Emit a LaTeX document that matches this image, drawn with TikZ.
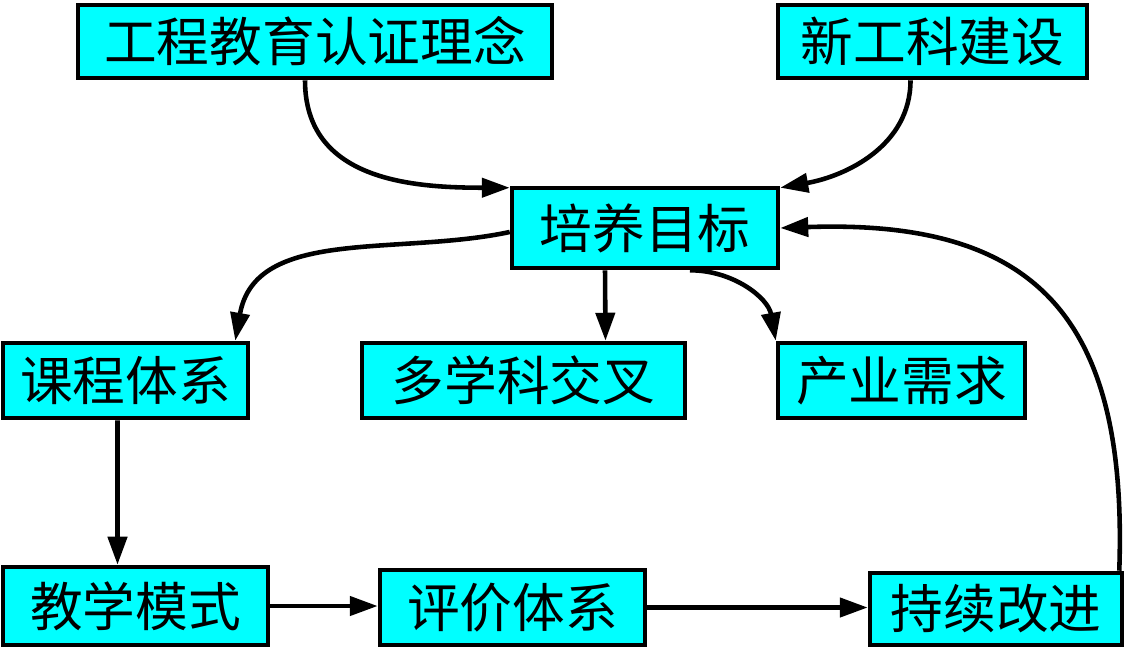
\documentclass[tikz,border=0pt]{standalone}
\usepackage{fontspec}
\newfontfamily\cjk{Noto Sans CJK SC}
\usepackage{tikz}
\usetikzlibrary{arrows.meta}
\definecolor{boxcyan}{RGB}{0,255,255}

\begin{document}
\begin{tikzpicture}[
			x=0.02cm, y=-0.02cm,
			line width=2.6pt,
			>={Triangle[length=0.56cm, width=0.38cm]},
			main/.style = {draw, fill=boxcyan, rectangle, inner sep=0pt, line width=2.6pt,
				font=\cjk\fontsize{30}{30}\selectfont}
		]
		\useasboundingbox (0,0) rectangle (1132,650);
		\node[main, minimum width=9.48cm, minimum height=1.46cm] (gc) at (315,41.5) {工程教育认证理念};
		\node[main, minimum width=6.18cm, minimum height=1.46cm] (xgk) at (932.5,41.5) {新工科建设};
		\node[main, minimum width=5.32cm, minimum height=1.6cm] (py) at (645,228) {培养目标};
		\node[main, minimum width=4.9cm, minimum height=1.5cm] (kc) at (125.5,380.5) {课程体系};
		\node[main, minimum width=6.46cm, minimum height=1.5cm] (dxk) at (523.5,380.5) {多学科交叉};
		\node[main, minimum width=4.94cm, minimum height=1.5cm] (cy) at (901.5,380.5) {产业需求};
		\node[main, minimum width=5.3cm, minimum height=1.56cm] (jx) at (135.5,606) {教学模式};
		\node[main, minimum width=5.3cm, minimum height=1.5cm] (pj) at (512.5,607.5) {评价体系};
		\node[main, minimum width=5.04cm, minimum height=1.44cm] (cx) at (996,609) {持续改进};
		% Draw the inputs to the goal.
		\draw[->] ([xshift=-0.2cm]gc.south) to [out=-90, in=180, looseness=1.1] ([yshift=-0.04cm]py.north west);
		\draw[->] ([xshift=-0.44cm]xgk.south) to [out=-90, in=10] ([yshift=-0.04cm]py.north east);
		\draw[->] ([xshift=-0.1cm]cx.north east) to [out=88, in=2, looseness=1.35] (py.east);
		% Draw the outputs of the goal.
		\draw[->] ([yshift=-0.08cm]py.west) to [out=192, in=80] ([xshift=-0.3cm]kc.north east);
		\draw[->] ([xshift=-0.8cm]py.south) to ([xshift=1.64cm]dxk.north);
		\draw[->] ([xshift=0.9cm]py.south) to [out=0, in=100] (cy.north west);
		% Draw the teaching chain.
		\draw[->] ([xshift=-0.16cm]kc.south) to ([xshift=-0.36cm]jx.north);
		\draw[->] (jx.east) to (jx.east -| pj.west);
		\draw[->] (pj.east) to (pj.east -| cx.west);
	\end{tikzpicture}
\end{document}
